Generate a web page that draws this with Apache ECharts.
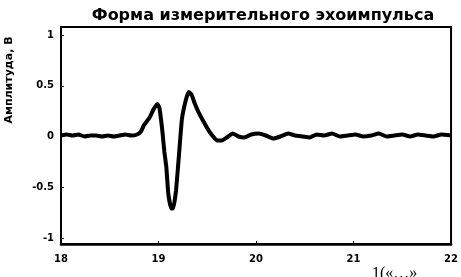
<!DOCTYPE html>
<html>
<head>
<meta charset="utf-8">
<script src="https://cdn.jsdelivr.net/npm/echarts@6/dist/echarts.min.js"></script>
<style>
  html, body { margin: 0; padding: 0; background: #fff; }
  #chart { width: 461px; height: 277px; }
</style>
</head>
<body>
<div id="chart"></div>
<script>
// time axis (units as printed) and measured amplitude, V
const timeVals = [
  18.00, 18.06, 18.12, 18.18, 18.24, 18.30, 18.36, 18.42, 18.48, 18.54,
  18.60, 18.66, 18.72, 18.78, 18.82, 18.85, 18.88, 18.91, 18.95, 18.99,
  19.01, 19.04, 19.06, 19.08, 19.10, 19.13, 19.15, 19.18, 19.21, 19.24,
  19.28, 19.31, 19.34, 19.37, 19.41, 19.46, 19.52, 19.56, 19.60, 19.65,
  19.70, 19.76, 19.82, 19.88, 19.95, 20.03, 20.10, 20.18, 20.25, 20.33,
  20.40, 20.48, 20.55, 20.62, 20.70, 20.78, 20.86, 20.94, 21.02, 21.10,
  21.18, 21.26, 21.34, 21.42, 21.50, 21.58, 21.66, 21.74, 21.82, 21.90,
  22.00
]
const amplitude = [
  0.01, 0.02, 0.01, 0.02, 0.00, 0.01, 0.01, 0.00, 0.01, 0.00,
  0.01, 0.02, 0.01, 0.02, 0.05, 0.11, 0.15, 0.19, 0.27, 0.32,
  0.28, 0.05, -0.15, -0.30, -0.56, -0.71, -0.71, -0.53, -0.18, 0.17,
  0.36, 0.44, 0.41, 0.33, 0.24, 0.15, 0.05, 0.00, -0.04, -0.04,
  -0.01, 0.03, 0.00, -0.01, 0.02, 0.03, 0.01, -0.02, 0.00, 0.03,
  0.01, 0.00, -0.01, 0.02, 0.01, 0.03, 0.00, 0.01, 0.02, 0.00,
  0.01, 0.03, 0.00, 0.01, 0.02, 0.00, 0.02, 0.01, 0.00, 0.02,
  0.01
]
const xTicks = [18, 19, 20, 21, 22]
const yTicks = [-1, -0.5, 0, 0.5, 1]

const chart = echarts.init(document.getElementById('chart'), null, { renderer: 'canvas' })

const labelFont = {
  color: '#000',
  fontFamily: 'DejaVu Sans, Arial, sans-serif',
  fontWeight: 'bold',
  fontSize: 10
}

chart.setOption({
  animation: false,
  backgroundColor: '#fff',
  title: {
    text: 'Форма измерительного эхоимпульса',
    left: 258,
    textAlign: 'center',
    top: 3,
    textStyle: {
      color: '#000',
      fontFamily: 'DejaVu Sans, Arial, sans-serif',
      fontWeight: 'bold',
      fontSize: 16
    }
  },
  grid: {
    left: 61,
    right: 7,
    top: 27,
    bottom: 33,
    show: true,
    borderColor: '#000',
    borderWidth: 2
  },
  xAxis: {
    type: 'value',
    min: 18,
    max: 22,
    splitLine: { show: false },
    axisLine: { onZero: false, lineStyle: { color: '#000', width: 2.5 } },
    axisTick: { inside: true, length: 3, customValues: xTicks, lineStyle: { color: '#000' } },
    axisLabel: { ...labelFont, margin: 10, customValues: xTicks }
  },
  yAxis: {
    type: 'value',
    min: -1.06,
    max: 1.08,
    splitLine: { show: false },
    axisLine: { show: true, onZero: false, lineStyle: { color: '#000', width: 2 } },
    axisTick: { inside: true, length: 3, customValues: yTicks, lineStyle: { color: '#000' } },
    axisLabel: { ...labelFont, margin: 7, customValues: yTicks }
  },
  graphic: [
    {
      type: 'text',
      x: 9,
      y: 80,
      rotation: Math.PI / 2,
      style: {
        text: 'Амплитуда, В',
        fill: '#000',
        font: 'bold 11px DejaVu Sans, Arial, sans-serif',
        align: 'center',
        verticalAlign: 'middle'
      }
    },
    {
      type: 'text',
      x: 372,
      y: 266,
      style: {
        text: '1(«…»',
        fill: '#000',
        font: '16px Liberation Serif, serif'
      }
    }
  ],
  series: [
    {
      type: 'line',
      data: timeVals.map((t, i) => [t, amplitude[i]]),
      showSymbol: false,
      smooth: 0.12,
      lineStyle: { color: '#000', width: 4 }
    }
  ]
})
</script>
</body>
</html>
